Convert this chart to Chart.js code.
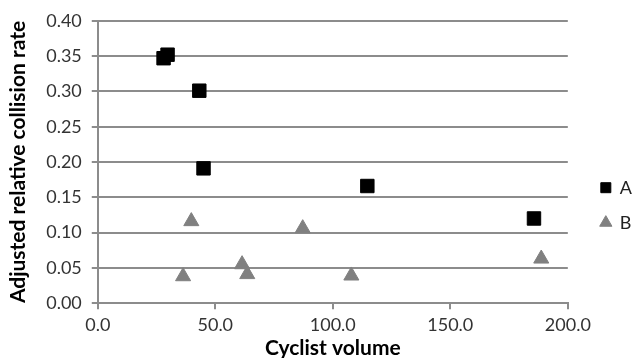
<!DOCTYPE html>
<html>
<head>
<meta charset="utf-8">
<script src="https://cdn.jsdelivr.net/npm/chart.js@4"></script>
<style>
  html, body { margin: 0; padding: 0; background: #fff; }
  #wrap { width: 632px; height: 358px; }
</style>
</head>
<body>
<div id="wrap"><canvas id="chart" width="632" height="358"></canvas></div>
<script>
// 시리즈 A (사각형)
const seriesAX = [28.0, 29.7, 43.2, 45.0, 114.7, 185.6];
const seriesAY = [0.347, 0.352, 0.301, 0.191, 0.166, 0.120];

// 시리즈 B (삼각형)
const seriesBX = [39.8, 36.3, 61.4, 63.6, 87.2, 107.9, 188.7];
const seriesBY = [0.116, 0.038, 0.055, 0.041, 0.106, 0.039, 0.063];

const seriesNames = ['A', 'B'];
const xTitle = 'Cyclist volume';
const yTitle = 'Adjusted relative collision rate';

const gridColor = '#8c8c8c';
const fontFamily = 'Lato, "Open Sans", sans-serif';

function toPoints(xs, ys) {
  return xs.map((x, i) => ({ x: x, y: ys[i] }));
}

// 범례를 오른쪽으로 조금 밀어줌
const legendShift = {
  id: 'legendShift',
  afterLayout(chart) {
    if (chart.legend) {
      chart.legend.left += 16;
      chart.legend.right += 16;
    }
  }
};

const ctx = document.getElementById('chart').getContext('2d');

new Chart(ctx, {
  type: 'scatter',
  data: {
    datasets: [
      {
        label: seriesNames[0],
        data: toPoints(seriesAX, seriesAY),
        pointStyle: 'rect',
        pointRadius: 9.5,
        backgroundColor: '#000',
        borderColor: '#000',
        borderWidth: 1
      },
      {
        label: seriesNames[1],
        data: toPoints(seriesBX, seriesBY),
        pointStyle: 'triangle',
        pointRadius: 8.7,
        backgroundColor: '#808080',
        borderColor: '#808080',
        borderWidth: 1
      }
    ]
  },
  plugins: [legendShift],
  options: {
    responsive: false,
    animation: false,
    layout: { padding: { top: 10, right: 6, left: 6, bottom: -4 } },
    plugins: {
      tooltip: { enabled: false },
      legend: {
        position: 'right',
        title: { display: true, text: '', padding: 12 },
        labels: {
          usePointStyle: true,
          color: '#222',
          font: { family: fontFamily, size: 18 },
          padding: 17,
          boxWidth: 10,
          boxHeight: 10
        }
      }
    },
    scales: {
      x: {
        type: 'linear',
        min: 0,
        max: 200,
        ticks: {
          stepSize: 50,
          color: '#333',
          font: { family: fontFamily, size: 18 },
          padding: 5,
          callback: v => v.toFixed(1)
        },
        grid: {
          drawOnChartArea: false,
          drawTicks: true,
          tickLength: 6,
          color: gridColor,
          lineWidth: 2
        },
        border: { display: true, color: gridColor, width: 2 },
        title: {
          display: true,
          text: xTitle,
          color: '#000',
          font: { family: fontFamily, size: 21, weight: 'bold' },
          padding: { top: -5, bottom: 1 }
        }
      },
      y: {
        min: 0,
        max: 0.4,
        ticks: {
          stepSize: 0.05,
          color: '#333',
          font: { family: fontFamily, size: 18 },
          padding: 10,
          callback: v => v.toFixed(2)
        },
        grid: {
          color: gridColor,
          lineWidth: 2,
          tickLength: 6
        },
        border: { display: true, color: gridColor, width: 2 },
        title: {
          display: true,
          text: yTitle,
          color: '#000',
          font: { family: fontFamily, size: 21, weight: 'bold' },
          padding: { top: 0, bottom: 5 }
        }
      }
    }
  }
});
</script>
</body>
</html>
